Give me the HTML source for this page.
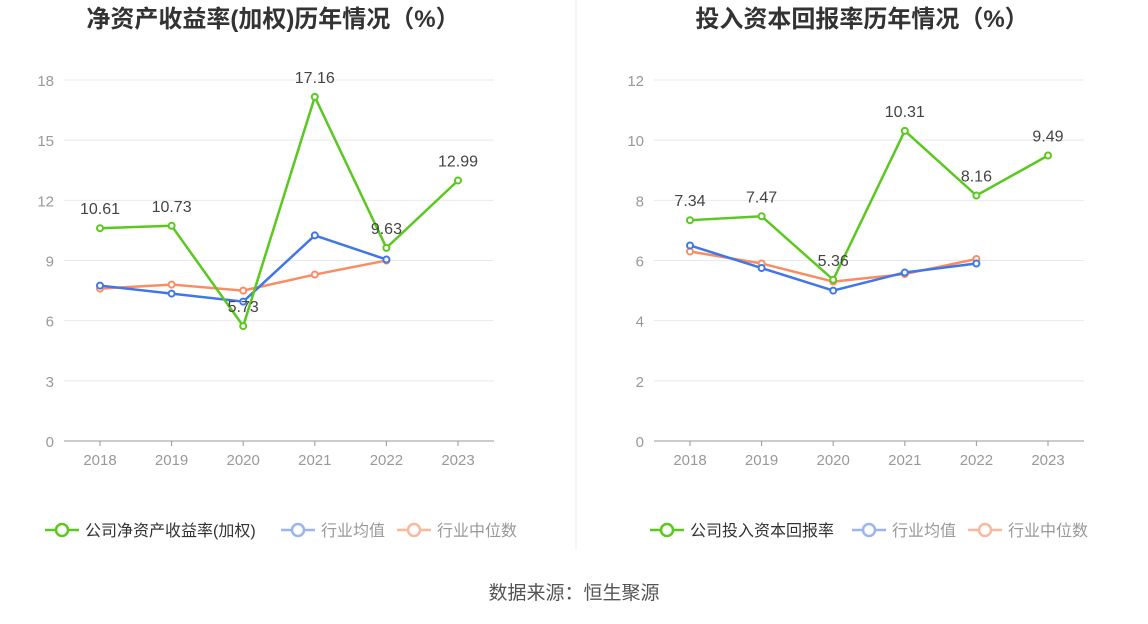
<!DOCTYPE html>
<html><head><meta charset="utf-8"><style>
body{margin:0;background:#fff;font-family:"Liberation Sans","Noto Sans CJK SC",sans-serif;}
svg text{font-family:"Liberation Sans","Noto Sans CJK SC",sans-serif;}
</style></head><body>
<svg id="c" width="1148" height="619">
<line x1="576" y1="0" x2="576" y2="550" stroke="#eee"/>
<text x="574" y="599" text-anchor="middle" font-size="19" fill="#555">数据来源：恒生聚源</text>
</svg>
<script>
const years=['2018','2019','2020','2021','2022','2023'];
const roeCompany=[10.61,10.73,5.73,17.16,9.63,12.99];
const roeAvg=[7.75,7.35,6.95,10.25,9.05];
const roeMedian=[7.6,7.8,7.5,8.3,9.0];
const roeTicks=[0,3,6,9,12,15,18];
const roicCompany=[7.34,7.47,5.36,10.31,8.16,9.49];
const roicAvg=[6.5,5.75,5.0,5.6,5.9];
const roicMedian=[6.3,5.9,5.3,5.55,6.05];
const roicTicks=[0,2,4,6,8,10,12];
const svg=document.getElementById('c');
const NS='http://www.w3.org/2000/svg';
function mk(t,a,txt){const e=document.createElementNS(NS,t);for(const k in a)e.setAttribute(k,a[k]);if(txt!==undefined)e.textContent=txt;svg.appendChild(e);return e;}
function chart(o){
 const x0=o.x0,step=71.6,yb=441,yt=80,max=o.ticks[o.ticks.length-1];
 const X=i=>x0+i*step,Y=v=>yb-(v/max)*(yb-yt);
 let e=mk('text',{x:o.cx,y:27,'text-anchor':'middle','font-size':24,'font-weight':'bold',fill:'#333'},o.title);
 
 o.ticks.forEach(t=>{
  if(t>0){e=mk('line',{x1:x0-36,x2:x0+394,y1:Y(t),y2:Y(t),stroke:'#e8e8ef'});}
  e=mk('text',{x:x0-46,y:Y(t)+6,'text-anchor':'end','font-size':15,fill:'#999'},String(t));
  
 });
 e=mk('line',{x1:x0-36,x2:x0+394,y1:yb,y2:yb,stroke:'#999'});
 years.forEach((y,i)=>{
  e=mk('line',{x1:X(i),x2:X(i),y1:yb,y2:yb+5,stroke:'#999'});
  e=mk('text',{x:X(i),y:465,'text-anchor':'middle','font-size':15,fill:'#999'},y);
  
 });
 const series=[[o.med,'#fa8c64','median'],[o.avg,'#3f78e6','average'],[o.comp,'#5ac81e','company']];
 series.forEach(([d,c,n])=>{
  e=mk('polyline',{points:d.map((v,i)=>X(i)+','+Y(v)).join(' '),fill:'none',stroke:c,'stroke-width':2.5});
  
  d.forEach((v,i)=>{e=mk('circle',{cx:X(i),cy:Y(v),r:3,fill:'#fff',stroke:c,'stroke-width':2});
   });
 });
 o.comp.forEach((v,i)=>{e=mk('text',{x:X(i),y:Y(v)-14,'text-anchor':'middle','font-size':16,fill:'#444'},v.toFixed(2));
  });
 const lg=[[o.l1,'#5ac81e'],['行业均值','#9bb5f0'],['行业中位数','#fbb89c']];
 let lx=o.lx;
 lg.forEach(([t,c],k)=>{
  e=mk('line',{x1:lx,x2:lx+34,y1:530,y2:530,stroke:c,'stroke-width':2.5});
  e=mk('circle',{cx:lx+17,cy:530,r:6,fill:'#fff',stroke:c,'stroke-width':2.5});
  e=mk('text',{x:lx+40,y:536,'font-size':16,fill:k==0?'#333':'#999'},t);
  lx+=40+o.lw[k];
 });
}
chart({x0:100,cx:273,title:'净资产收益率(加权)历年情况（%）',ticks:roeTicks,comp:roeCompany,avg:roeAvg,med:roeMedian,l1:'公司净资产收益率(加权)',lx:45,lw:[196,76,100]});
chart({x0:690,cx:862,title:'投入资本回报率历年情况（%）',ticks:roicTicks,comp:roicCompany,avg:roicAvg,med:roicMedian,l1:'公司投入资本回报率',lx:650,lw:[162,76,100]});
</script>
</body></html>
